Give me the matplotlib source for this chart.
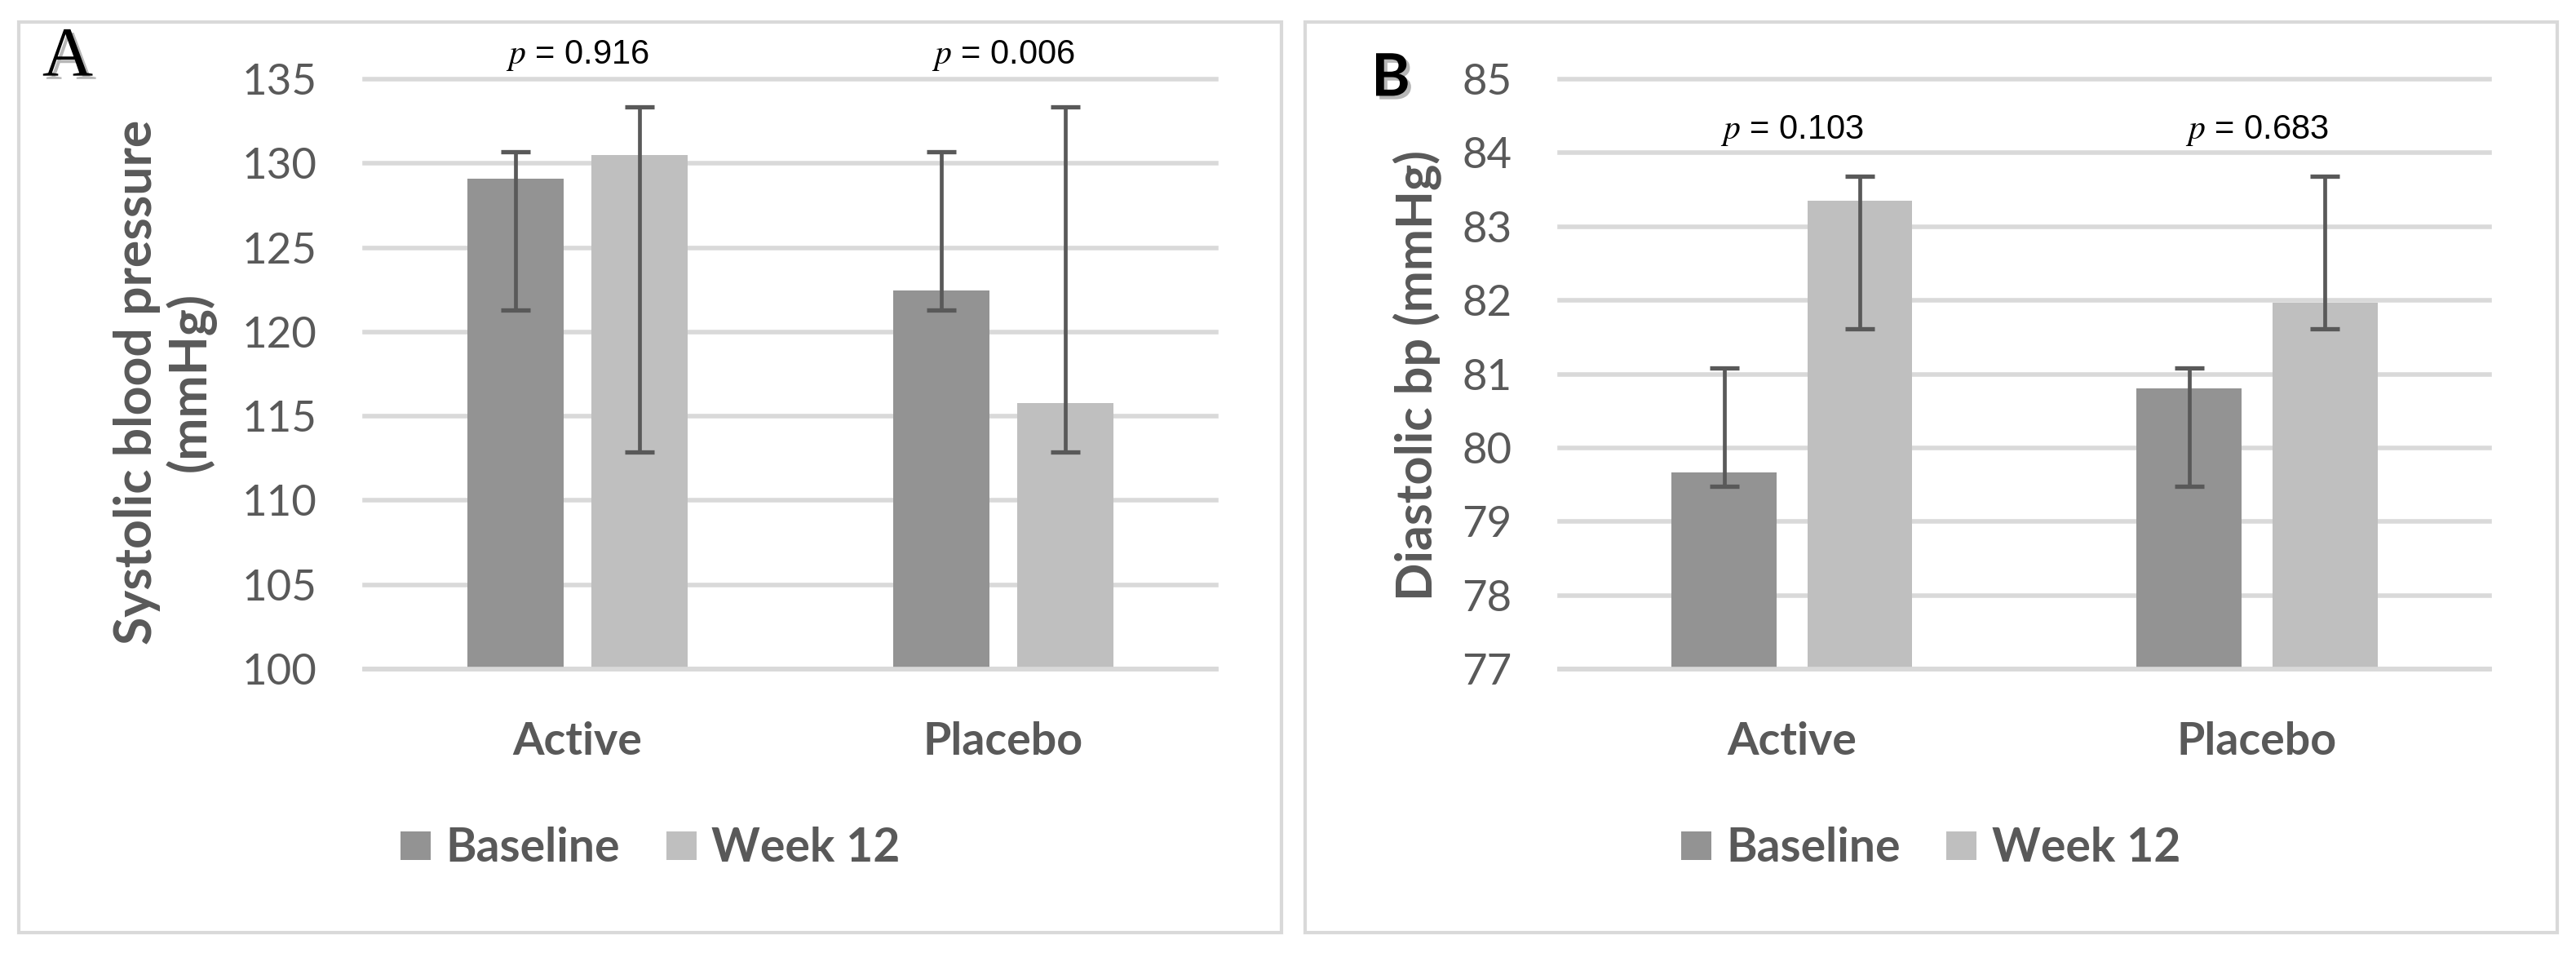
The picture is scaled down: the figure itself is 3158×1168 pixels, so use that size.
"""Baseline vs week 12 blood pressure, two panels (systolic / diastolic)."""

import numpy as np
import matplotlib
matplotlib.use("Agg")
import matplotlib.pyplot as plt
import matplotlib.patheffects as pe
from matplotlib.patches import Rectangle

plt.rcParams["mathtext.fontset"] = "stix"

# data
groups = ["Active", "Placebo"]
series = ["Baseline", "Week 12"]

sys_baseline = [129.1, 122.45]
sys_week12 = [130.5, 115.8]
sys_baseline_lo = [121.3, 121.3]
sys_baseline_hi = [130.7, 130.7]
sys_week12_lo = [112.9, 112.9]
sys_week12_hi = [133.35, 133.35]
sys_pvalues = ["0.916", "0.006"]
sys_ticks = [100, 105, 110, 115, 120, 125, 130, 135]

dia_baseline = [79.67, 80.81]
dia_week12 = [83.35, 81.97]
dia_baseline_lo = [79.48, 79.48]
dia_baseline_hi = [81.08, 81.08]
dia_week12_lo = [81.62, 81.62]
dia_week12_hi = [83.68, 83.68]
dia_pvalues = ["0.103", "0.683"]
dia_ticks = [77, 78, 79, 80, 81, 82, 83, 84, 85]

# style
DARK = "#939393"
LIGHT = "#bfbfbf"
ERR = "#595959"
GRID = "#d9d9d9"
TEXT = "#595959"
SANS = ["Lato", "DejaVu Sans"]


def draw_panel(ax, base, week, base_lo, base_hi, week_lo, week_hi,
               pvalues, ticks, ylabel, label_x, label_y, p_y, label_size):
    """Grouped bar chart with asymmetric error bars and p-value labels."""
    x = np.arange(len(groups))
    width = 0.226
    offset = 0.146
    base = np.array(base)
    week = np.array(week)

    for t in ticks:
        ax.axhline(t, color=GRID, lw=4, zorder=0, clip_on=False)

    ax.bar(x - offset, base, width, color=DARK, zorder=2, label=series[0])
    ax.bar(x + offset, week, width, color=LIGHT, zorder=2, label=series[1])
    ax.axhline(ticks[0], color=GRID, lw=4, zorder=3, clip_on=False)

    ax.errorbar(x - offset, base,
                yerr=[base - np.array(base_lo), np.array(base_hi) - base],
                fmt="none", ecolor=ERR, elinewidth=3.4, capsize=13,
                capthick=3.8, zorder=4)
    ax.errorbar(x + offset, week,
                yerr=[week - np.array(week_lo), np.array(week_hi) - week],
                fmt="none", ecolor=ERR, elinewidth=3.4, capsize=13,
                capthick=3.8, zorder=4)

    for xi, p in zip(x, pvalues):
        ax.text(xi, p_y, f"$p$ = {p}", ha="center", va="center",
                fontsize=30, color="black",
                family=["Liberation Sans", "DejaVu Sans"], zorder=5)

    ax.set_xlim(-0.5, len(groups) - 0.5)
    ax.set_ylim(ticks[0], ticks[-1])
    ax.set_yticks(ticks)
    ax.set_xticks(x)
    ax.set_xticklabels(groups, fontsize=40, fontweight="bold", color=TEXT,
                       family=SANS)
    for lab in ax.get_yticklabels():
        lab.set_fontsize(38)
        lab.set_color(TEXT)
        lab.set_family(SANS)
        lab.set_fontweight("normal")
    ax.tick_params(axis="x", length=0, pad=46)
    ax.tick_params(axis="y", length=0, pad=42)
    for s in ax.spines.values():
        s.set_visible(False)

    ax.text(label_x, label_y, ylabel, transform=ax.transAxes, rotation=90,
            ha="center", va="center", fontsize=label_size, fontweight="bold",
            color=TEXT, family=SANS, linespacing=1.1)


fig = plt.figure(figsize=(31.58, 11.68), dpi=100)

# panel frames
for x0, w in [(0.00728, 0.4902), (0.5066, 0.4861)]:
    fig.add_artist(Rectangle((x0, 0.0214), w, 0.9555, transform=fig.transFigure,
                             fill=False, edgecolor=GRID, lw=3))

ax_a = fig.add_axes([0.1415, 0.2979, 0.3306, 0.6190])
ax_b = fig.add_axes([0.6054, 0.2979, 0.3610, 0.6190])

draw_panel(ax_a, sys_baseline, sys_week12, sys_baseline_lo, sys_baseline_hi,
           sys_week12_lo, sys_week12_hi, sys_pvalues, sys_ticks,
           "Systolic blood pressure\n(mmHg)", -0.2347, 0.487, 136.4, 45)
draw_panel(ax_b, dia_baseline, dia_week12, dia_baseline_lo, dia_baseline_hi,
           dia_week12_lo, dia_week12_hi, dia_pvalues, dia_ticks,
           "Diastolic bp (mmHg)", -0.1526, 0.498, 84.3, 44)

# legends centred on each panel
for ax, cx in [(ax_a, 0.2524), (ax_b, 0.7495)]:
    leg = fig.legend(*ax.get_legend_handles_labels(), loc="center",
                     bbox_to_anchor=(cx, 0.1096), ncol=2, frameon=False,
                     prop={"family": SANS, "weight": "bold", "size": 41},
                     handlelength=0.65, handleheight=0.56, handletextpad=0.32,
                     columnspacing=1.0, borderaxespad=0)
    for t in leg.get_texts():
        t.set_color(TEXT)

# panel letters
shadow = [pe.SimplePatchShadow(offset=(3, -3), shadow_rgbFace="#888888", alpha=0.6),
          pe.Normal()]
fig.text(0.0263, 0.9384, "A", ha="center", va="center", fontsize=62,
         family=["Liberation Serif", "DejaVu Serif"],
         color="black", path_effects=shadow)
fig.text(0.5399, 0.917, "B", ha="center", va="center", fontsize=52,
         fontweight="bold", family=SANS, color="black", path_effects=shadow)

fig.savefig("out.png", dpi=100)
